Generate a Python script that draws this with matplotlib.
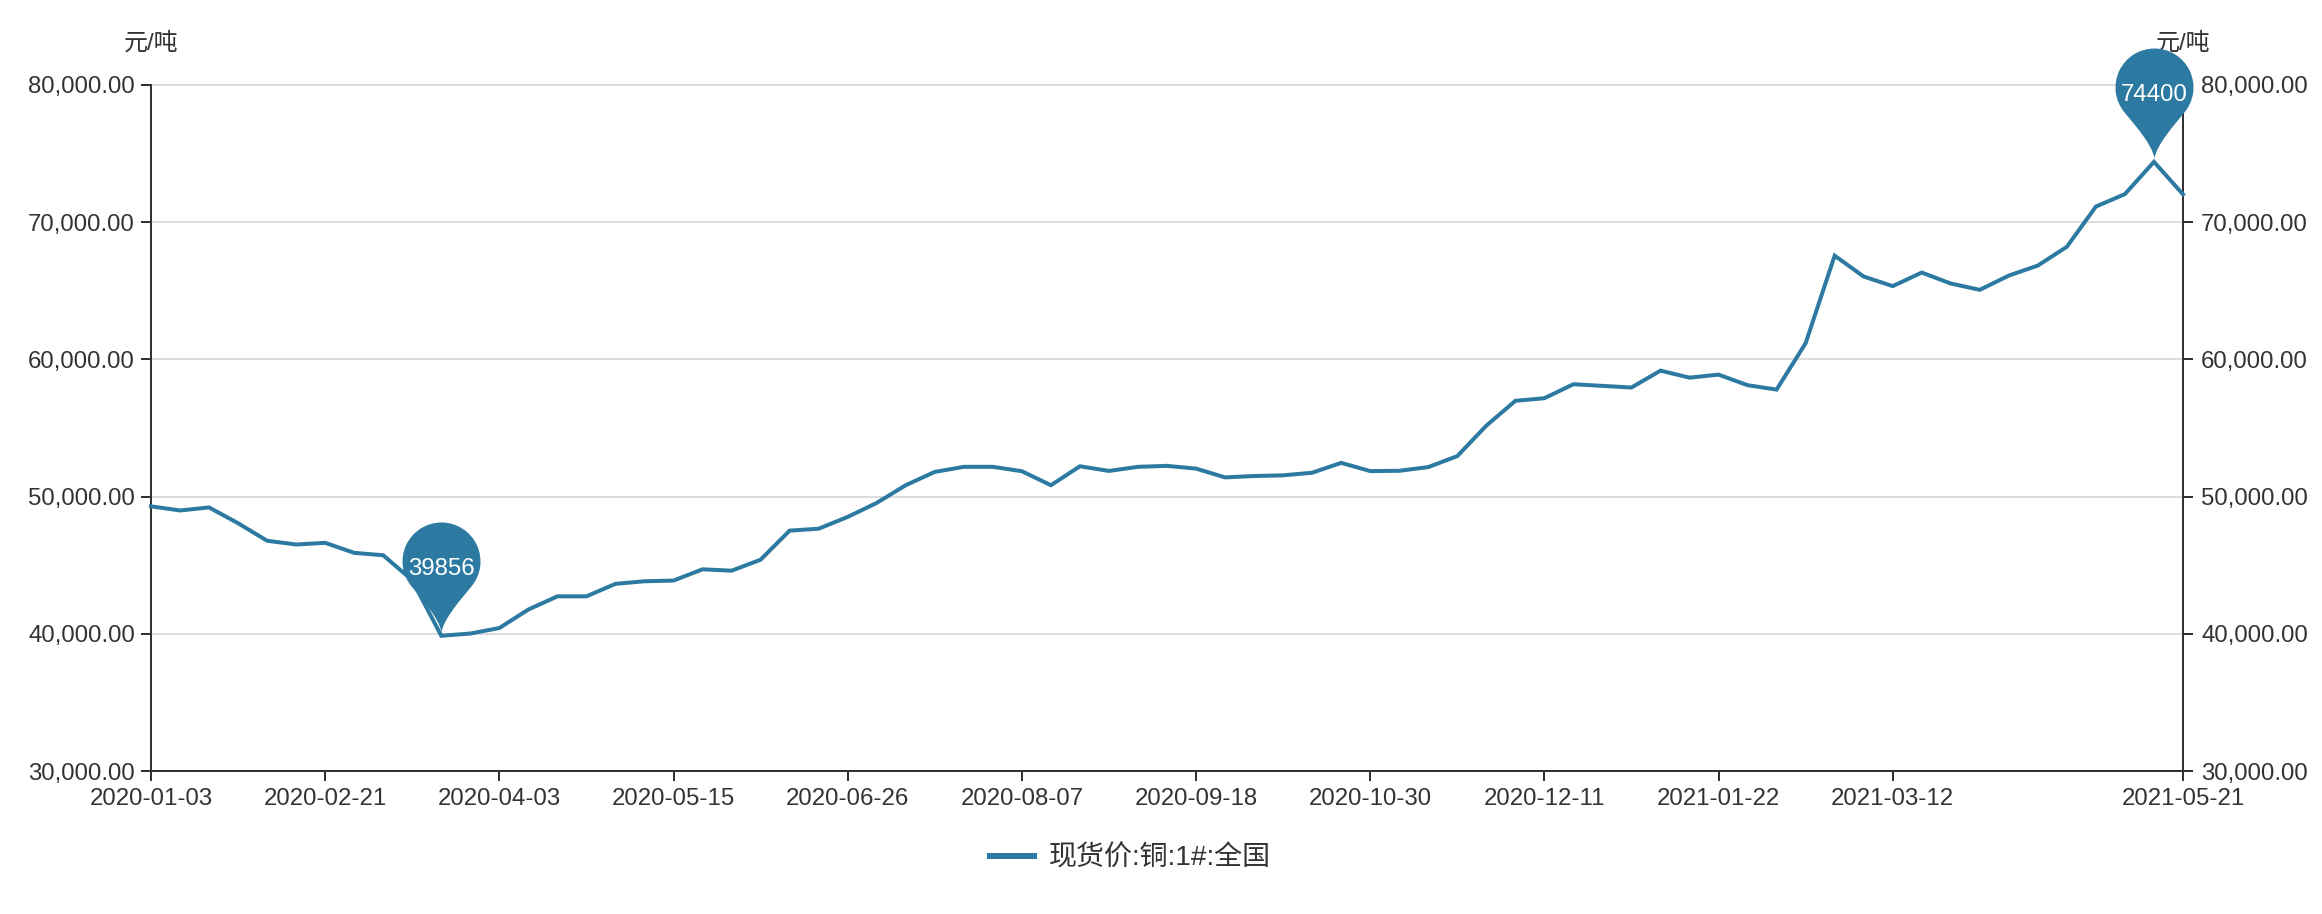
import numpy as np
import matplotlib
matplotlib.use("Agg")
import matplotlib.pyplot as plt
from matplotlib.path import Path
from matplotlib.ticker import FixedLocator, FixedFormatter, FuncFormatter

dates = [
    "2020-01-03","2020-01-10","2020-01-17","2020-01-23","2020-02-07","2020-02-14","2020-02-21",
    "2020-02-28","2020-03-06","2020-03-13","2020-03-20","2020-03-27","2020-04-03",
    "2020-04-10","2020-04-17","2020-04-24","2020-04-30","2020-05-08","2020-05-15",
    "2020-05-22","2020-05-29","2020-06-05","2020-06-12","2020-06-19","2020-06-26",
    "2020-07-03","2020-07-10","2020-07-17","2020-07-24","2020-07-31","2020-08-07",
    "2020-08-14","2020-08-21","2020-08-28","2020-09-04","2020-09-11","2020-09-18",
    "2020-09-25","2020-09-30","2020-10-09","2020-10-16","2020-10-23","2020-10-30",
    "2020-11-06","2020-11-13","2020-11-20","2020-11-27","2020-12-04","2020-12-11",
    "2020-12-18","2020-12-25","2020-12-31","2021-01-08","2021-01-15","2021-01-22",
    "2021-01-29","2021-02-05","2021-02-19","2021-02-26","2021-03-05","2021-03-12",
    "2021-03-19","2021-03-26","2021-04-02","2021-04-09","2021-04-16","2021-04-23",
    "2021-04-30","2021-05-07","2021-05-14","2021-05-21",
]
prices = [
    49290,48990,49210,48060,46780,46510,46630,
    45900,45725,43900,39856,40020,40420,
    41770,42730,42730,43640,43830,43880,
    44700,44600,45400,47520,47660,48520,
    49540,50830,51800,52170,52170,51850,
    50830,52210,51870,52170,52240,52040,
    51400,51500,51550,51740,52460,51860,
    51880,52150,52950,55170,56980,57170,
    58190,58070,57950,59180,58670,58890,
    58120,57800,61180,67560,66040,65340,
    66330,65530,65070,66110,66840,68210,
    71140,72050,74400,72030,
]
tick_dates = ["2020-01-03","2020-02-21","2020-04-03","2020-05-15","2020-06-26","2020-08-07",
              "2020-09-18","2020-10-30","2020-12-11","2021-01-22","2021-03-12","2021-05-21"]
y_ticks = [30000,40000,50000,60000,70000,80000]
series_name = "现货价:铜:1#:全国"
unit = "元/吨"

W, H, DPI = 2322, 914, 100
px = 72 / DPI
COLOR = "#2c7aa1"
INK = "#333333"
FONT = ["Liberation Sans", "Noto Sans CJK SC", "DejaVu Sans"]
plt.rcParams["font.family"] = FONT

fig = plt.figure(figsize=(W/DPI, H/DPI), dpi=DPI, facecolor="white")
ax = fig.add_axes([151/W, 1-771/H, (2183-151)/W, (771-85)/H])
x = np.arange(len(dates))
ax.plot(x, prices, color=COLOR, lw=4*px, solid_joinstyle="miter", zorder=3, clip_on=False)
ax.set_xlim(0, len(dates)-1)
ax.set_ylim(30000, 80000)
ax.xaxis.set_major_locator(FixedLocator([dates.index(d) for d in tick_dates]))
ax.xaxis.set_major_formatter(FixedFormatter(tick_dates))
ax.yaxis.set_major_locator(FixedLocator(y_ticks))
ax.yaxis.set_major_formatter(FuncFormatter(lambda v, _: f"{v:,.2f}"))
ax.grid(axis="y", color="#dddddd", lw=2*px, zorder=0)
ax.set_axisbelow(True)
ax.tick_params(axis="both", length=10*px, width=2*px, color=INK, labelcolor=INK, labelsize=24*px)
ax.tick_params(axis="x", pad=7*px)
ax.tick_params(axis="y", pad=6*px)
ax.tick_params(axis="y", right=True, labelright=True, left=True, labelleft=True)
for name in ("left", "right", "bottom"):
    ax.spines[name].set_color(INK)
    ax.spines[name].set_linewidth(2*px)
ax.spines["top"].set_visible(False)
for t in ax.yaxis.get_major_ticks():
    t.label2.set_x(1 + 2 / (2183-151))
    t.gridline.set_clip_on(False)

for xf in (0, 1):
    ax.annotate(unit, xy=(xf, 1), xycoords="axes fraction", xytext=(0, 42*px),
                textcoords="offset points", ha="center", va="center",
                fontsize=24*px, color=INK)

# pin marker, tip just above its data point
gap, r, cy = 4.0, 39.0, 75.0
arc = Path.arc(-40, 220)
av = arc.vertices * r + [0, cy]
start = av[0]
verts = [[0, gap], [2, gap+14], [21, gap+35], start] + [tuple(v) for v in av[1:]] + \
        [[-21, gap+35], [-2, gap+14], [0, gap], [0, gap]]
codes = [Path.MOVETO, Path.CURVE4, Path.CURVE4, Path.CURVE4] + list(arc.codes[1:]) + \
        [Path.CURVE4, Path.CURVE4, Path.CURVE4, Path.CLOSEPOLY]
pin = Path(np.array(verts, float), codes)
pin_size = 2 * np.abs(pin.vertices).max() * px

for i in (int(np.argmin(prices)), int(np.argmax(prices))):
    ax.plot([x[i]], [prices[i]], marker=pin, ms=pin_size, mfc=COLOR, mec="none",
            ls="none", zorder=5, clip_on=False)
    ax.annotate(str(prices[i]), xy=(x[i], prices[i]), xytext=(0, 67*px),
                textcoords="offset points", ha="center", va="center",
                fontsize=24*px, color="white", zorder=6)

handle, = ax.plot([], [], color=COLOR, lw=6*px, solid_capstyle="butt", label=series_name)
ax.legend(handles=[handle], loc="center", bbox_to_anchor=(1129/W, 1-859/H),
          bbox_transform=fig.transFigure, frameon=False, fontsize=28*px, labelcolor=INK,
          handlelength=50/28, handletextpad=11/28, borderpad=0)

fig.savefig("out.png", dpi=DPI)
